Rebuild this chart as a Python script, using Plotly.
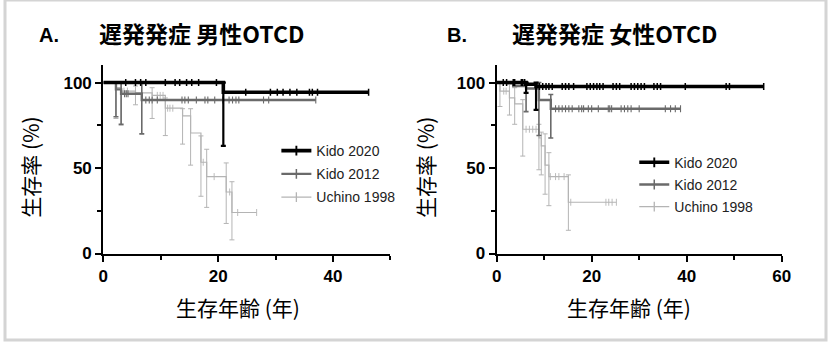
import numpy as np
import plotly.graph_objects as go

W, H = 835, 350

# ---------------- Data: panel A (male) ----------------
A_k20_t = [0, 20.9, 46.2]
A_k20_s = [100, 94.3, 94.3]
A_k20_ev_t = [20.9]
A_k20_ev_lo = [63]
A_k20_ev_hi = [100]
A_k20_cens = [3.9, 5.6, 6.5, 7.4, 10.8, 12.5, 13.3, 14.5, 15.4, 16.6, 19.7,
              24.8, 29.1, 30.3, 31.3, 32.5, 33.7, 35.9, 36.4, 37.3, 46.2]

A_k12_t = [0, 2.2, 3.1, 6.7, 37.0]
A_k12_s = [100, 96, 93.5, 89.8, 89.8]
A_k12_ev_t = [2.2, 3.1, 6.7]
A_k12_ev_lo = [80, 75.6, 70]
A_k12_ev_hi = [100, 100, 100]
A_k12_cens = [3.7, 4.0, 4.3, 7.4, 8.0, 8.5, 9.4, 13.7, 14.2, 14.8, 16.2, 17.7, 18.2,
              19.4, 20.8, 21.9, 22.5, 23.1, 23.6, 27.9, 28.8, 37.0]

A_u98_t = [0, 2.2, 3.1, 5.6, 8.5, 10.8, 13.8, 15.2, 17.0, 18.0, 21.4, 22.4, 26.7]
A_u98_s = [100, 97, 95, 94, 92.5, 85, 80.5, 70.5, 53.4, 45, 36, 24, 24]
A_u98_ev_t = [2.2, 3.1, 5.6, 8.5, 10.8, 13.8, 15.2, 17.0, 18.0, 21.4, 22.4]
A_u98_ev_lo = [79, 75, 87, 79, 69, 64, 51.7, 33.5, 27, 17.6, 8]
A_u98_ev_hi = [100, 100, 98, 97, 91, 84.7, 84.7, 68.8, 61, 53, 42]
A_u98_cens = [3.6, 4.2, 9.4, 9.9, 10.4, 11.2, 11.6, 12.1, 17.4, 19.3, 22.0, 23.4, 26.7]

# ---------------- Data: panel B (female) ----------------
B_k20_t = [0, 6.2, 8.3, 56.2]
B_k20_s = [100, 99, 97.7, 97.7]
B_k20_ev_t = [6.2, 8.3]
B_k20_ev_lo = [94, 84]
B_k20_ev_hi = [100, 100]
B_k20_cens = [1.4, 2.1, 3.5, 3.8, 5.2, 5.5, 5.9, 9.0, 9.7, 10.4, 11.0, 11.7, 13.8, 14.5,
              15.2, 16.2, 19.0, 19.7, 20.4, 21.1, 21.7, 22.4, 24.5, 25.2, 25.9, 28.3,
              29.0, 29.7, 30.4, 31.1, 33.1, 33.8, 34.5, 39.7, 48.3, 49.0, 56.2]

B_k12_t = [0, 3.5, 6.2, 8.9, 11.4, 38.7]
B_k12_s = [100, 98, 96.5, 89.8, 84.7, 84.7]
B_k12_ev_t = [6.2, 8.9, 11.4]
B_k12_ev_lo = [83, 69, 67.6]
B_k12_ev_hi = [100, 100, 93]
B_k12_cens = [12.4, 13.1, 13.8, 14.5, 15.2, 15.9, 17.3, 17.9, 18.3, 19.3, 20.0, 21.4,
              23.5, 23.8, 24.2, 26.2, 26.9, 27.6, 28.3, 30.0, 35.5, 36.6, 37.6, 38.7]

B_u98_t = [0, 0.7, 2.7, 3.8, 5.5, 8.9, 9.4, 10.2, 11.0, 15.1, 25.2]
B_u98_s = [100, 95, 91, 87.5, 72.7, 67.6, 63, 51.7, 45, 30, 30]
B_u98_ev_t = [0.7, 2.7, 3.8, 5.5, 8.9, 9.4, 10.2, 11.0, 15.1]
B_u98_ev_lo = [86, 81, 75.6, 57, 49, 46, 34.7, 28, 13.6]
B_u98_ev_hi = [100, 99, 97, 90, 75.6, 71, 70, 59, 46]
B_u98_cens = [1.5, 2.0, 6.2, 6.9, 7.6, 8.3, 11.3, 12.4, 13.1, 14.2, 15.6, 23.0, 23.6, 24.3, 25.2]

series_names = ["Kido 2020", "Kido 2012", "Uchino 1998"]
x_ticks_A = [0, 20, 40]
x_ticks_B = [0, 20, 40, 60]
y_ticks = [0, 50, 100]

# ---------------- Styles ----------------
colors = ["#000000", "#6a6a6a", "#b4b4b4"]
line_w = [3.6, 2.4, 1.2]
err_w = [2.2, 1.6, 1.0]
cens_w = [1.5, 1.1, 0.9]

fig = go.Figure()


def step_value(ts, ss, t):
    idx = np.searchsorted(np.asarray(ts), np.asarray(t), side="right") - 1
    return np.asarray(ss)[idx]


def add_series(i, ts, ss, ev_t, ev_lo, ev_hi, cens, xa, ya):
    c = colors[i]
    ev_s = step_value(ts, ss, ev_t)
    fig.add_trace(go.Scatter(
        x=ev_t, y=ev_s, mode="markers", xaxis=xa, yaxis=ya,
        marker=dict(size=1, color=c, opacity=0), showlegend=False, hoverinfo="skip",
        error_y=dict(type="data", symmetric=False,
                     array=list(np.asarray(ev_hi) - ev_s),
                     arrayminus=list(ev_s - np.asarray(ev_lo)),
                     color=c, thickness=err_w[i], width=2.5)))
    fig.add_trace(go.Scatter(
        x=ts, y=ss, mode="lines", line=dict(color=c, width=line_w[i], shape="hv"),
        xaxis=xa, yaxis=ya, showlegend=False, hoverinfo="skip"))
    cs = step_value(ts, ss, cens)
    fig.add_trace(go.Scatter(
        x=cens, y=cs, mode="markers", xaxis=xa, yaxis=ya,
        marker=dict(symbol="line-ns", size=5, line=dict(color=c, width=cens_w[i])),
        showlegend=False, hoverinfo="skip"))


# draw lighter series first so darker lie on top
add_series(2, A_u98_t, A_u98_s, A_u98_ev_t, A_u98_ev_lo, A_u98_ev_hi, A_u98_cens, "x", "y")
add_series(1, A_k12_t, A_k12_s, A_k12_ev_t, A_k12_ev_lo, A_k12_ev_hi, A_k12_cens, "x", "y")
add_series(0, A_k20_t, A_k20_s, A_k20_ev_t, A_k20_ev_lo, A_k20_ev_hi, A_k20_cens, "x", "y")
add_series(2, B_u98_t, B_u98_s, B_u98_ev_t, B_u98_ev_lo, B_u98_ev_hi, B_u98_cens, "x2", "y2")
add_series(1, B_k12_t, B_k12_s, B_k12_ev_t, B_k12_ev_lo, B_k12_ev_hi, B_k12_cens, "x2", "y2")
add_series(0, B_k20_t, B_k20_s, B_k20_ev_t, B_k20_ev_lo, B_k20_ev_hi, B_k20_cens, "x2", "y2")

# legend entries
for lg, xa, ya in [("legend", "x", "y"), ("legend2", "x2", "y2")]:
    for i, name in enumerate(series_names):
        fig.add_trace(go.Scatter(
            x=[None], y=[None], mode="lines+markers", name=name, legend=lg,
            xaxis=xa, yaxis=ya, legendgroup=lg + str(i),
            line=dict(color=colors[i], width=line_w[i]),
            marker=dict(symbol="line-ns", size=7, line=dict(color=colors[i], width=cens_w[i] + 0.4))))

tickfont = dict(family="Liberation Sans, Arial, sans-serif", size=17, color="#000", weight="bold")
cjk = "Noto Sans CJK JP, Noto Sans CJK SC, sans-serif"


def xaxis(domain, rng, ticks, anchor):
    return dict(domain=domain, range=rng, tickvals=ticks, ticks="outside", ticklen=6, tickwidth=2,
                tickcolor="#000", showline=True, linecolor="#000", linewidth=2.2, showgrid=False,
                zeroline=False, tickfont=tickfont, anchor=anchor, fixedrange=True,
                minor=dict(dtick=10, tick0=0, ticks="outside", ticklen=4, tickwidth=2, tickcolor="#000"))


def yaxis(domain, anchor):
    return dict(domain=domain, range=[0, 110], tickvals=y_ticks, ticks="outside", ticklen=6, tickwidth=2,
                tickcolor="#000", showline=True, linecolor="#000", linewidth=2.2, showgrid=False,
                zeroline=False, tickfont=tickfont, anchor=anchor, fixedrange=True,
                minor=dict(dtick=25, tick0=0, ticks="outside", ticklen=4, tickwidth=2, tickcolor="#000"))


ydom = [1 - 261 / H, 1 - 67.4 / H]
fig.update_layout(
    width=W, height=H, margin=dict(l=0, r=0, t=0, b=0),
    paper_bgcolor="white", plot_bgcolor="white",
    xaxis=xaxis([100 / W, 392 / W], [0, 50], x_ticks_A, "y"),
    yaxis=yaxis(ydom, "x"),
    xaxis2=xaxis([500 / W, 790 / W], [0, 60], x_ticks_B, "y2"),
    yaxis2=yaxis(ydom, "x2"),
    legend=dict(x=276 / W, y=1 - 139 / H, xanchor="left", yanchor="top", bgcolor="rgba(0,0,0,0)",
                font=dict(family="Liberation Sans, Arial, sans-serif", size=14, color="#222"),
                tracegroupgap=2, itemwidth=30),
    legend2=dict(x=640 / W, y=1 - 151 / H, xanchor="left", yanchor="top", bgcolor="rgba(0,0,0,0)",
                 font=dict(family="Liberation Sans, Arial, sans-serif", size=14, color="#222"),
                 tracegroupgap=1, itemwidth=30),
    showlegend=True,
)

ann = []
def txt(x, y, s, size, bold=False, fam=cjk, angle=0, xanchor="left"):
    ann.append(dict(x=x / W, y=1 - y / H, xref="paper", yref="paper", text=s, showarrow=False,
                    xanchor=xanchor, yanchor="middle", textangle=angle,
                    font=dict(family=fam, size=size, color="#000", weight="bold" if bold else "normal")))

arial = "Liberation Sans, Arial, sans-serif"
txt(33, 36, "A.", 20, True, arial)
txt(94, 34, "遅発発症 男性OTCD", 23, True)
txt(447, 36, "B.", 20, True, arial)
txt(514, 34, "遅発発症 女性OTCD", 23, True)
txt(237, 316, "生存年齢 (年)", 21, False, cjk, 0, "center")
txt(635, 316, "生存年齢 (年)", 21, False, cjk, 0, "center")
txt(26, 172, "生存率 (%)", 21, False, cjk, -90, "center")
txt(427, 172, "生存率 (%)", 21, False, cjk, -90, "center")
fig.update_layout(annotations=ann)

fig.add_shape(type="rect", xref="paper", yref="paper", x0=0, y0=0, x1=1, y1=1,
              line=dict(color="#d4d4d4", width=3), fillcolor="rgba(0,0,0,0)")

fig.write_html("out.html",
               post_script="document.body.style.margin='0';document.body.style.overflow='hidden';")
